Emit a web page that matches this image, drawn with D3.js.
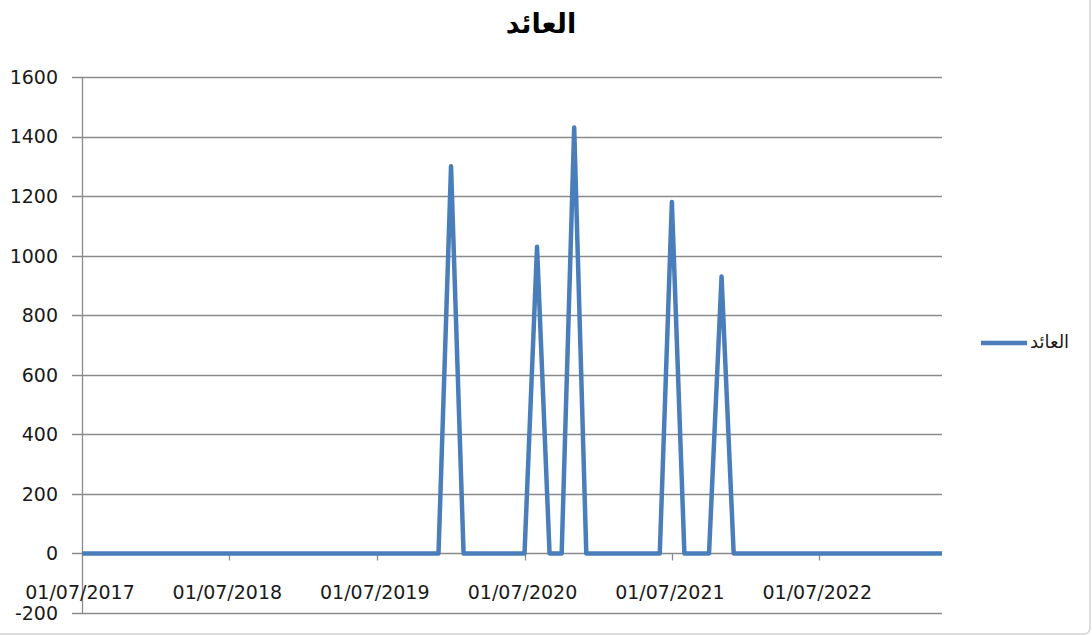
<!DOCTYPE html>
<meta charset="utf-8">
<style>
  body { margin: 0; background: #fff; }
  svg { display: block; font-family: "DejaVu Sans", sans-serif; }
  .grid line { stroke: #8a8a8a; stroke-width: 1.3px; }
</style>
<body>
<svg width="1092" height="635"></svg>
<script src="https://cdn.jsdelivr.net/npm/d3@7"></script>
<script>

// monthly series, first day of each month, 07/2017 .. 05/2023
var startMonth = "2017-07-01"
var monthCount = 71
// non-zero months (index from 07/2017) and their values
var spikeMonths = [30, 37, 40, 48, 52]
var spikeValues = [1300, 1030, 1430, 1180, 930]
var yTicks = [-200, 0, 200, 400, 600, 800, 1000, 1200, 1400, 1600]
var xTickDates = ["2017-07-01", "2018-07-01", "2019-07-01", "2020-07-01", "2021-07-01", "2022-07-01"]
var title = "العائد"
var seriesName = "العائد"

var parse = d3.timeParse("%Y-%m-%d")
var fmt = d3.timeFormat("%d/%m/%Y")
var t0 = parse(startMonth)

var data = d3.range(monthCount).map(function (i) {
  var k = spikeMonths.indexOf(i)
  return { date: d3.timeMonth.offset(t0, i), value: k > -1 ? spikeValues[k] : 0 }
})

var svg = d3.select("svg")

// faint chart frame
svg.append("rect")
  .attr("x", -10).attr("y", -10)
  .attr("width", 1100).attr("height", 644)
  .attr("rx", 6)
  .attr("fill", "none")
  .attr("stroke", "#d4d4d4")
  .attr("stroke-width", 1.5)

// plot area edges (don't call these top/left: window.top is read-only)
var plotL = 82, plotR = 942, plotT = 77, plotB = 613

var x = d3.scaleTime()
  .domain([data[0].date, data[data.length - 1].date])
  .range([plotL, plotR])

var y = d3.scaleLinear()
  .domain([-200, 1600])
  .range([plotB, plotT])

// horizontal gridlines + left ticks
var grid = svg.append("g").attr("class", "grid")
grid.selectAll("line.h").data(yTicks).enter().append("line")
  .attr("class", "h")
  .attr("x1", plotL - 10).attr("x2", plotR)
  .attr("y1", function (d) { return Math.round(y(d)) + 0.5 })
  .attr("y2", function (d) { return Math.round(y(d)) + 0.5 })

// vertical axis line
grid.append("line")
  .attr("x1", plotL + 0.5).attr("x2", plotL + 0.5)
  .attr("y1", plotT).attr("y2", plotB)

// x ticks on the zero line
grid.selectAll("line.xt").data(xTickDates.slice(1)).enter().append("line")
  .attr("class", "xt")
  .attr("x1", function (d) { return Math.round(x(parse(d))) + 0.5 })
  .attr("x2", function (d) { return Math.round(x(parse(d))) + 0.5 })
  .attr("y1", y(0)).attr("y2", y(0) + 7)

// y labels
svg.append("g").selectAll("text").data(yTicks).enter().append("text")
  .attr("x", 58)
  .attr("y", function (d) { return y(d) })
  .attr("dy", "0.36em")
  .attr("text-anchor", "end")
  .attr("font-size", 19)
  .attr("fill", "#1a1a1a")
  .text(function (d) { return d })

// x labels
svg.append("g").selectAll("text").data(xTickDates).enter().append("text")
  .attr("x", function (d) { return x(parse(d)) - 2 })
  .attr("y", 599)
  .attr("text-anchor", "middle")
  .attr("font-size", 19)
  .attr("fill", "#1a1a1a")
  .text(function (d) { return fmt(parse(d)) })

// series line
var line = d3.line()
  .x(function (d) { return x(d.date) })
  .y(function (d) { return y(d.value) })

svg.append("path")
  .datum(data)
  .attr("d", line)
  .attr("fill", "none")
  .attr("stroke", "#4a7ebb")
  .attr("stroke-width", 4.5)
  .attr("stroke-linejoin", "round")

// title
svg.append("text")
  .attr("x", 541).attr("y", 33)
  .attr("text-anchor", "middle")
  .attr("font-size", 27)
  .attr("font-weight", "bold")
  .attr("fill", "#000")
  .text(title)

// legend
svg.append("line")
  .attr("x1", 981).attr("x2", 1027)
  .attr("y1", 343).attr("y2", 343)
  .attr("stroke", "#4a7ebb")
  .attr("stroke-width", 4.5)

svg.append("text")
  .attr("x", 1030).attr("y", 342)
  .attr("dy", "0.35em")
  .attr("font-size", 18)
  .attr("fill", "#1a1a1a")
  .text(seriesName)

</script>
